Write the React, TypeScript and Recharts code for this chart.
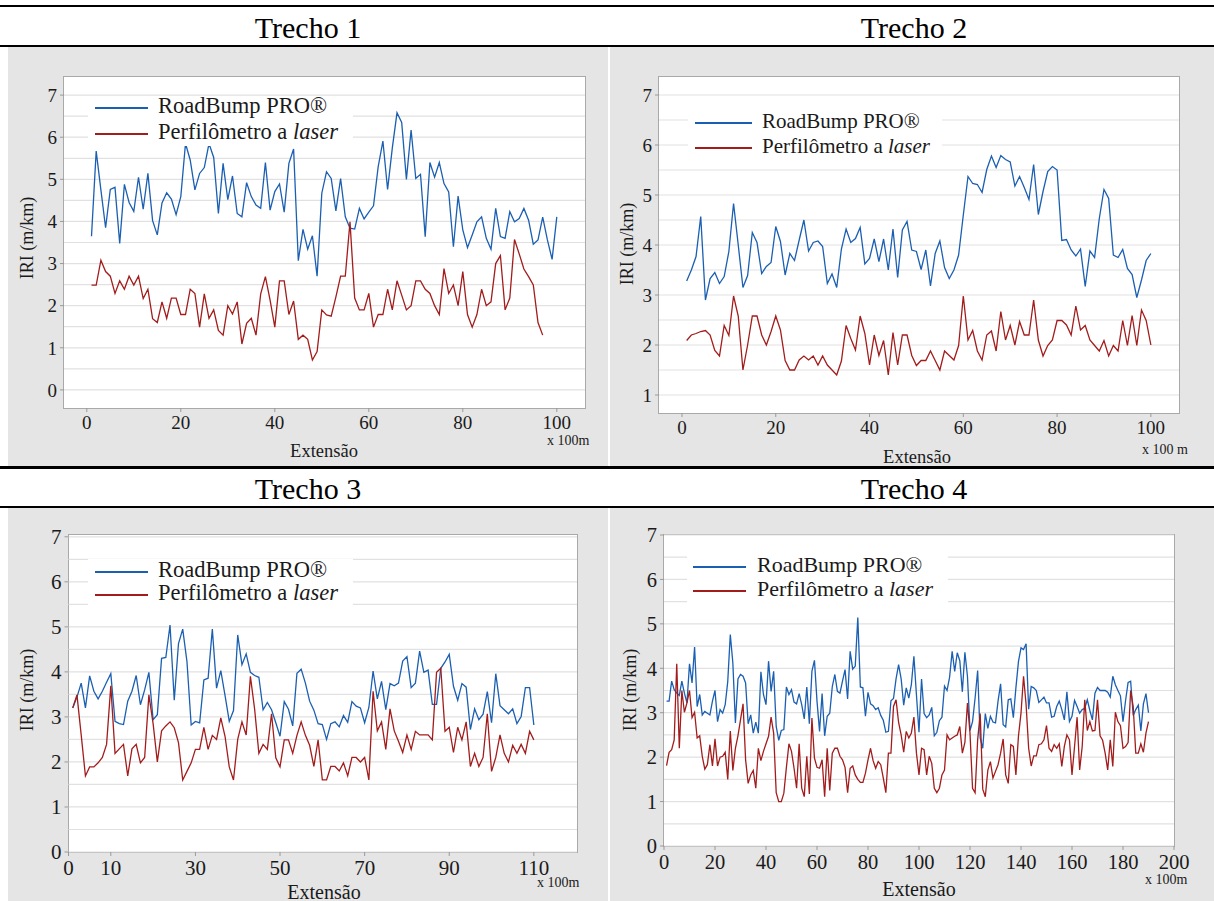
import { LineChart, Line, XAxis, YAxis, CartesianGrid } from "recharts"

const serif = '"Liberation Serif", "Times New Roman", serif'
const blue = "#1b5fb2"
const red = "#a31c1c"

// IRI values (m/km), one reading per 100 m, starting at 1
const t1Road = [
  3.65, 5.67, 4.75, 3.85, 4.76, 4.81, 3.48, 4.88, 4.45, 4.24, 5.05, 4.29, 5.14, 4.02, 3.68, 4.44, 4.68, 4.53, 4.16, 4.59,
  5.85, 5.46, 4.75, 5.14, 5.28, 5.85, 5.52, 4.19, 5.38, 4.52, 5.08, 4.19, 4.11, 4.92, 4.59, 4.39, 4.31, 5.4, 4.27, 4.71,
  4.89, 4.22, 5.38, 5.72, 3.07, 3.81, 3.34, 3.66, 2.7, 4.67, 5.18, 5.02, 4.25, 5.02, 4.11, 3.84, 3.82, 4.31, 4.06, 4.22,
  4.37, 5.3, 5.91, 4.76, 5.74, 6.58, 6.35, 5.0, 6.17, 5.02, 5.12, 3.64, 5.4, 5.05, 5.4, 4.9, 4.7, 3.4, 4.6, 3.8,
  3.38, 3.68, 3.99, 4.11, 3.6, 3.34, 4.31, 3.64, 3.6, 4.23, 3.99, 4.07, 4.31, 4.03, 3.46, 3.56, 4.1, 3.56, 3.1, 4.11,
]
const t1Laser = [
  2.49, 2.49, 3.08, 2.81, 2.7, 2.29, 2.59, 2.39, 2.7, 2.49, 2.7, 2.17, 2.39, 1.69, 1.6, 2.09, 1.7, 2.18, 2.18, 1.79,
  1.79, 2.39, 2.29, 1.49, 2.28, 1.7, 1.9, 1.41, 1.3, 2.0, 1.8, 2.09, 1.09, 1.58, 1.7, 1.3, 2.28, 2.69, 2.13, 1.49,
  2.59, 2.59, 1.79, 2.11, 1.2, 1.3, 1.2, 0.71, 0.91, 1.9, 1.78, 1.75, 2.21, 2.7, 2.7, 3.99, 2.18, 1.9, 1.9, 2.29,
  1.49, 1.79, 1.79, 2.39, 1.9, 2.59, 2.25, 1.9, 2.0, 2.59, 2.59, 2.39, 2.29, 2.0, 1.79, 2.88, 2.29, 2.49, 2.0, 2.81,
  1.79, 1.49, 1.79, 2.39, 2.0, 2.09, 3.0, 3.19, 1.9, 2.18, 3.57, 3.23, 2.87, 2.69, 2.49, 1.6, 1.3,
]

const t2Road = [
  3.28, 3.5, 3.77, 4.57, 2.9, 3.33, 3.45, 3.23, 3.37, 3.87, 4.83, 4.0, 3.15, 3.39, 4.25, 4.05, 3.43, 3.57, 3.65, 4.37,
  4.07, 3.4, 3.83, 3.69, 4.1, 4.5, 3.88, 4.05, 4.08, 3.97, 3.23, 3.42, 3.15, 3.92, 4.32, 4.05, 4.13, 4.35, 3.62, 3.73,
  4.12, 3.67, 4.12, 3.5, 4.32, 3.35, 4.3, 4.47, 3.9, 3.87, 3.51, 3.9, 3.18, 3.83, 4.08, 3.55, 3.33, 3.5, 3.8, 4.6,
  5.37, 5.23, 5.21, 5.05, 5.51, 5.78, 5.55, 5.79, 5.71, 5.66, 5.18, 5.37, 5.15, 4.91, 5.61, 4.61, 5.07, 5.47, 5.57, 5.5,
  4.09, 4.11, 3.9, 3.78, 3.92, 3.17, 3.88, 3.75, 4.53, 5.11, 4.93, 3.8, 3.75, 3.91, 3.53, 3.41, 2.95, 3.3, 3.69, 3.83,
]
const t2Laser = [
  2.09, 2.2, 2.23, 2.27, 2.29, 2.2, 1.89, 1.78, 2.39, 2.19, 2.98, 2.58, 1.5, 2.0, 2.58, 2.58, 2.2, 2.0, 2.27, 2.58,
  2.3, 1.69, 1.5, 1.5, 1.7, 1.78, 1.7, 1.78, 1.6, 1.78, 1.6, 1.5, 1.4, 1.68, 2.39, 2.13, 1.9, 2.58, 2.23, 1.6,
  2.2, 1.79, 2.09, 1.4, 2.25, 1.6, 2.2, 2.2, 1.79, 1.59, 1.69, 1.69, 1.88, 1.69, 1.5, 1.88, 1.79, 1.7, 1.99, 2.98,
  2.1, 2.29, 1.88, 1.7, 2.2, 2.28, 1.88, 2.67, 2.1, 2.39, 2.0, 2.47, 2.2, 2.2, 2.9, 2.1, 1.78, 1.99, 2.1, 2.49,
  2.49, 2.4, 2.2, 2.78, 2.3, 2.39, 2.1, 1.99, 1.88, 2.09, 1.78, 1.99, 1.88, 2.49, 1.99, 2.59, 1.99, 2.7, 2.49, 2.0,
]

const t3Road = [
  3.2, 3.44, 3.75, 3.2, 3.91, 3.57, 3.4, 3.57, 3.77, 3.96, 2.9, 2.85, 2.83, 3.35, 3.57, 3.92, 3.27, 3.6, 3.99, 2.94,
  3.05, 4.3, 4.32, 5.04, 3.37, 4.63, 4.95, 4.23, 2.82, 2.9, 2.87, 3.82, 3.86, 4.95, 3.64, 4.03, 3.48, 2.9, 3.14, 4.82,
  4.16, 4.4, 3.99, 3.92, 3.88, 3.16, 3.32, 3.16, 2.87, 2.57, 3.34, 3.17, 2.8, 3.97, 4.06, 3.75, 3.35, 3.15, 2.85, 2.83,
  2.5, 2.85, 2.89, 2.78, 3.03, 2.88, 3.34, 3.24, 3.2, 2.87, 3.21, 4.02, 3.4, 3.79, 3.16, 3.74, 3.69, 3.75, 4.24, 4.34,
  3.65, 3.75, 4.46, 3.99, 4.04, 3.28, 3.28, 4.08, 4.22, 4.39, 3.68, 3.37, 3.74, 3.66, 2.72, 3.18, 2.94, 3.06, 3.56, 2.87,
  3.96, 3.25, 3.16, 3.07, 3.18, 2.85, 3.01, 3.65, 3.65, 2.82,
]
const t3Laser = [
  3.2, 3.49, 2.6, 1.69, 1.89, 1.89, 1.98, 2.1, 2.39, 3.69, 2.19, 2.29, 2.39, 1.69, 2.29, 2.39, 1.98, 2.1, 3.49, 2.85,
  2.0, 2.69, 2.8, 2.89, 2.76, 2.43, 1.6, 1.79, 1.98, 2.28, 2.28, 2.77, 2.28, 2.59, 2.5, 2.98, 2.57, 1.89, 1.6, 2.5,
  2.89, 2.6, 3.9, 3.17, 2.19, 2.39, 2.28, 3.07, 2.09, 1.89, 2.49, 2.49, 2.19, 2.59, 2.89, 2.59, 2.37, 1.9, 2.49, 1.6,
  1.6, 1.9, 1.9, 1.8, 1.98, 1.69, 2.1, 2.1, 2.0, 2.1, 1.6, 3.57, 2.69, 2.89, 2.28, 3.18, 2.69, 2.46, 2.21, 2.6,
  2.28, 2.68, 2.6, 2.6, 2.6, 2.49, 3.99, 4.08, 2.68, 2.77, 2.21, 2.77, 2.49, 2.89, 1.9, 2.19, 1.9, 2.1, 3.07, 1.79,
  2.1, 2.6, 2.19, 2.0, 2.37, 2.19, 2.39, 2.19, 2.68, 2.49,
]

const t4Road = [
  3.26, 3.26, 3.71, 3.52, 3.44, 3.39, 3.71, 3.44, 3.22, 4.1, 3.67, 4.48, 3.14, 3.41, 2.95, 3.03, 2.99, 2.95, 3.26, 3.5,
  2.8, 3.07, 2.99, 3.18, 3.7, 4.76, 4.12, 2.77, 3.76, 3.86, 3.82, 3.67, 2.75, 2.95, 2.54, 2.79, 2.54, 3.92, 3.41, 3.18,
  4.16, 3.48, 3.93, 2.69, 2.38, 2.6, 2.62, 3.58, 3.41, 3.52, 3.24, 3.2, 3.43, 3.18, 2.86, 3.58, 2.75, 3.93, 4.18, 3.26,
  2.58, 3.43, 2.48, 2.92, 2.99, 3.59, 3.86, 3.48, 3.44, 3.71, 3.97, 3.31, 4.38, 3.98, 4.05, 5.14, 3.58, 3.56, 2.92, 3.46,
  3.2, 3.16, 3.07, 3.11, 2.94, 2.83, 2.56, 2.58, 3.27, 3.32, 3.76, 4.08, 3.76, 3.17, 3.56, 3.33, 3.63, 4.27, 3.4, 2.56,
  3.76, 2.98, 2.89, 2.95, 3.12, 2.48, 2.56, 2.82, 2.9, 3.6, 3.5, 3.8, 4.38, 3.93, 4.35, 4.17, 3.47, 4.36, 3.82, 2.6,
  2.8, 3.33, 3.95, 2.43, 2.2, 2.98, 2.65, 2.92, 2.79, 2.77, 3.26, 3.65, 2.73, 2.68, 3.29, 3.31, 2.89, 3.56, 4.15, 4.46,
  4.42, 4.55, 3.08, 3.59, 3.56, 3.5, 3.23, 3.29, 3.35, 3.22, 3.22, 2.9, 2.92, 3.14, 3.26, 3.07, 2.84, 3.47, 2.8, 2.92,
  3.28, 3.14, 2.99, 3.07, 3.1, 3.29, 3.05, 2.84, 3.44, 3.57, 3.5, 3.5, 3.5, 3.46, 3.35, 3.82, 3.63, 3.5, 3.38, 2.8,
  3.27, 3.68, 3.71, 2.94, 3.07, 3.17, 2.59, 3.2, 3.43, 3.0,
]
const t4Laser = [
  1.81, 2.11, 2.17, 2.39, 4.1, 2.2, 3.5, 3.01, 3.22, 3.5, 2.89, 3.01, 2.43, 2.48, 2.02, 1.73, 1.83, 2.28, 1.8, 2.41,
  1.8, 2.0, 2.02, 2.11, 1.5, 2.59, 1.7, 2.2, 2.48, 2.84, 3.2, 1.94, 1.41, 1.6, 1.7, 1.3, 2.2, 1.92, 2.13, 2.3,
  2.47, 2.9, 2.54, 1.2, 1.0, 1.0, 1.19, 1.77, 2.3, 2.13, 1.75, 1.3, 2.3, 1.3, 1.11, 2.02, 1.17, 2.88, 1.98, 1.77,
  1.75, 1.94, 1.11, 2.2, 1.25, 2.09, 2.2, 2.2, 2.02, 1.94, 1.77, 1.2, 1.75, 1.8, 1.6, 1.5, 1.43, 1.43, 1.64, 1.94,
  2.2, 1.92, 1.75, 1.9, 1.83, 1.53, 1.2, 2.09, 2.09, 3.14, 3.29, 2.78, 2.5, 2.11, 2.58, 2.43, 2.54, 2.9, 2.09, 1.6,
  2.2, 2.17, 1.6, 2.02, 1.86, 1.3, 1.2, 1.3, 1.6, 1.71, 2.5, 2.39, 2.43, 2.47, 2.5, 2.69, 2.09, 2.33, 3.22, 2.54,
  1.3, 1.2, 2.39, 2.98, 1.28, 1.11, 1.71, 1.9, 1.53, 1.68, 1.83, 2.09, 2.41, 1.6, 1.41, 2.28, 2.24, 1.6, 2.47, 2.99,
  3.82, 3.18, 2.2, 1.8, 2.03, 2.03, 2.28, 2.3, 2.39, 2.71, 2.2, 2.13, 2.28, 2.2, 2.3, 1.79, 2.24, 2.5, 2.39, 1.6,
  2.24, 2.9, 1.71, 2.24, 3.29, 2.6, 2.8, 2.59, 2.6, 3.29, 2.48, 2.38, 2.09, 1.71, 2.39, 1.79, 3.01, 2.8, 2.71, 2.2,
  2.24, 2.33, 3.5, 3.14, 2.09, 2.09, 2.3, 2.11, 2.54, 2.8,
]

const ticks1 = [0, 20, 40, 60, 80, 100]
const ticks3 = [0, 10, 30, 50, 70, 90, 110]
const ticks4 = [0, 20, 40, 60, 80, 100, 120, 140, 160, 180, 200]
const yTicks0 = [0, 1, 2, 3, 4, 5, 6, 7]
const yTicks1 = [1, 2, 3, 4, 5, 6, 7]
const grid0 = [0, 0.5, 1, 1.5, 2, 2.5, 3, 3.5, 4, 4.5, 5, 5.5, 6, 6.5, 7]
const grid1 = [1, 1.5, 2, 2.5, 3, 3.5, 4, 4.5, 5, 5.5, 6, 6.5, 7]

const toRows = (road: number[], laser: number[]) =>
  Array.from({ length: Math.max(road.length, laser.length) }, (_, i) => ({
    km: i + 1,
    road: road[i] ?? null,
    laser: laser[i] ?? null,
  }))

type Rect = { x: number; y: number; w: number; h: number }

type PanelProps = {
  box: Rect
  plot: { l: number; t: number; r: number; b: number }
  data: { km: number; road: number | null; laser: number | null }[]
  xDomain: [number, number]
  xTicks: number[]
  yDomain: [number, number]
  yTicks: number[]
  grid: number[]
  tickFont: number
  iri: [number, number]
  ext: [number, number, number]
  unit: { text: string; x: number; y: number }
  legend: { box: Rect; y1: number; y2: number; sx1: number; sx2: number; tx: number; font: number }
}

const Y_W = 40
const X_H = 30

function Panel(p: PanelProps) {
  const { box, plot, legend } = p
  const margin = {
    top: plot.t - box.y,
    right: box.x + box.w - plot.r,
    bottom: box.y + box.h - plot.b - X_H,
    left: plot.l - box.x - Y_W,
  }
  const tick = { fill: "#1a1a1a", fontSize: p.tickFont, fontFamily: serif }
  const rowH = 26
  return (
    <>
      <div style={{ position: "absolute", left: box.x, top: box.y, width: box.w, height: box.h, background: "#e5e5e5" }} />
      <div
        style={{
          position: "absolute",
          left: plot.l,
          top: plot.t,
          width: plot.r - plot.l,
          height: plot.b - plot.t,
          background: "#fff",
          boxShadow: "0 0 0 1px #a9a9a9",
        }}
      />
      <div style={{ position: "absolute", left: box.x, top: box.y }}>
        <LineChart width={box.w} height={box.h} data={p.data} margin={margin}>
          <CartesianGrid vertical={false} horizontalValues={p.grid} stroke="#e1e1e1" strokeWidth={1.2} />
          <XAxis
            type="number"
            dataKey="km"
            domain={p.xDomain}
            ticks={p.xTicks}
            allowDataOverflow
            height={X_H}
            tick={tick}
            tickSize={4}
            tickMargin={4}
            tickLine={{ stroke: "#9a9a9a" }}
            axisLine={false}
            interval={0}
          />
          <YAxis
            type="number"
            domain={p.yDomain}
            ticks={p.yTicks}
            allowDataOverflow
            width={Y_W}
            tick={tick}
            tickSize={4}
            tickMargin={3}
            tickLine={{ stroke: "#9a9a9a" }}
            axisLine={false}
            interval={0}
          />
          <Line type="linear" dataKey="road" stroke={blue} strokeWidth={1.3} dot={false} isAnimationActive={false} />
          <Line type="linear" dataKey="laser" stroke={red} strokeWidth={1.3} dot={false} isAnimationActive={false} />
        </LineChart>
      </div>
      <div
        style={{
          position: "absolute",
          left: legend.box.x,
          top: legend.box.y,
          width: legend.box.w,
          height: legend.box.h,
          background: "#fff",
        }}
      />
      {[
        { y: legend.y1, color: blue, label: <>RoadBump PRO®</> },
        { y: legend.y2, color: red, label: <>Perfilômetro a <i>laser</i></> },
      ].map((row, i) => (
        <div key={i}>
          <div
            style={{
              position: "absolute",
              left: legend.sx1,
              top: row.y - 0.6,
              width: legend.sx2 - legend.sx1,
              height: 1.3,
              background: row.color,
            }}
          />
          <div
            style={{
              position: "absolute",
              left: legend.tx,
              top: row.y - rowH / 2 - 2,
              height: rowH,
              lineHeight: `${rowH}px`,
              fontSize: legend.font,
              fontFamily: serif,
              color: "#1a1a1a",
              whiteSpace: "nowrap",
            }}
          >
            {row.label}
          </div>
        </div>
      ))}
      <div
        style={{
          position: "absolute",
          left: p.iri[0],
          top: p.iri[1],
          transform: "translate(-50%, -50%) rotate(-90deg)",
          fontSize: 18,
          whiteSpace: "nowrap",
          color: "#1a1a1a",
        }}
      >
        IRI (m/km)
      </div>
      <div
        style={{
          position: "absolute",
          left: p.ext[0],
          top: p.ext[1],
          transform: "translate(-50%, -50%)",
          fontSize: p.ext[2],
          whiteSpace: "nowrap",
          color: "#1a1a1a",
        }}
      >
        Extensão
      </div>
      <div
        style={{
          position: "absolute",
          left: p.unit.x,
          top: p.unit.y,
          transform: "translateY(-50%)",
          fontSize: 14,
          whiteSpace: "nowrap",
          color: "#1a1a1a",
        }}
      >
        {p.unit.text}
      </div>
    </>
  )
}

function Title({ text, x, y }: { text: string; x: number; y: number }) {
  return (
    <div style={{ position: "absolute", left: x, top: y, transform: "translate(-50%, -50%)", fontSize: 30, whiteSpace: "nowrap" }}>
      {text}
    </div>
  )
}

function Rule({ y, h }: { y: number; h: number }) {
  return <div style={{ position: "absolute", left: 0, top: y, width: 1214, height: h, background: "#000" }} />
}

export default function App() {
  return (
    <div style={{ position: "relative", width: 1214, height: 901, background: "#fff", overflow: "hidden", fontFamily: serif }}>
      <style>{`body{margin:0}`}</style>
      <Rule y={5} h={2} />
      <Title text="Trecho 1" x={308} y={28} />
      <Title text="Trecho 2" x={914} y={28} />
      <Rule y={45} h={1.5} />
      <Panel
        box={{ x: 8, y: 47, w: 600, h: 419 }}
        plot={{ l: 64, t: 77, r: 585, b: 408 }}
        data={toRows(t1Road, t1Laser)}
        xDomain={[-4.85, 106]}
        xTicks={ticks1}
        yDomain={[-0.43, 7.43]}
        yTicks={yTicks0}
        grid={grid0}
        tickFont={19}
        iri={[27, 238]}
        ext={[324, 451, 18.5]}
        unit={{ text: "x 100m", x: 547, y: 441 }}
        legend={{ box: { x: 88, y: 97, w: 265, h: 49 }, y1: 108, y2: 134, sx1: 95, sx2: 148, tx: 158, font: 22.5 }}
      />
      <Panel
        box={{ x: 610, y: 47, w: 604, h: 419 }}
        plot={{ l: 659, t: 77, r: 1179, b: 413 }}
        data={toRows(t2Road, t2Laser)}
        xDomain={[-4.9, 106]}
        xTicks={ticks1}
        yDomain={[0.64, 7.36]}
        yTicks={yTicks1}
        grid={grid1}
        tickFont={19}
        iri={[627, 244]}
        ext={[917, 457, 18.5]}
        unit={{ text: "x 100 m", x: 1142, y: 450 }}
        legend={{ box: { x: 688, y: 104, w: 254, h: 54 }, y1: 123, y2: 148, sx1: 695, sx2: 752, tx: 762, font: 21 }}
      />
      <Rule y={466} h={3} />
      <Title text="Trecho 3" x={308} y={489} />
      <Title text="Trecho 4" x={914} y={489} />
      <Rule y={506} h={1.5} />
      <Panel
        box={{ x: 8, y: 508, w: 600, h: 393 }}
        plot={{ l: 68.5, t: 535, r: 577, b: 852 }}
        data={toRows(t3Road, t3Laser)}
        xDomain={[0, 120.2]}
        xTicks={ticks3}
        yDomain={[0, 7.04]}
        yTicks={yTicks0}
        grid={grid0}
        tickFont={21}
        iri={[27, 690]}
        ext={[324, 892, 20]}
        unit={{ text: "x 100m", x: 537, y: 883 }}
        legend={{ box: { x: 88, y: 559, w: 265, h: 48 }, y1: 572, y2: 595, sx1: 95, sx2: 148, tx: 158, font: 22.5 }}
      />
      <Panel
        box={{ x: 610, y: 508, w: 604, h: 393 }}
        plot={{ l: 664, t: 535, r: 1174, b: 846 }}
        data={toRows(t4Road, t4Laser)}
        xDomain={[0, 200]}
        xTicks={ticks4}
        yDomain={[0, 7]}
        yTicks={yTicks0}
        grid={grid0}
        tickFont={20.5}
        iri={[630, 690]}
        ext={[919, 889, 20]}
        unit={{ text: "x 100m", x: 1145, y: 880 }}
        legend={{ box: { x: 687, y: 553, w: 261, h: 52 }, y1: 567, y2: 591, sx1: 693, sx2: 746, tx: 757, font: 22 }}
      />
    </div>
  )
}
